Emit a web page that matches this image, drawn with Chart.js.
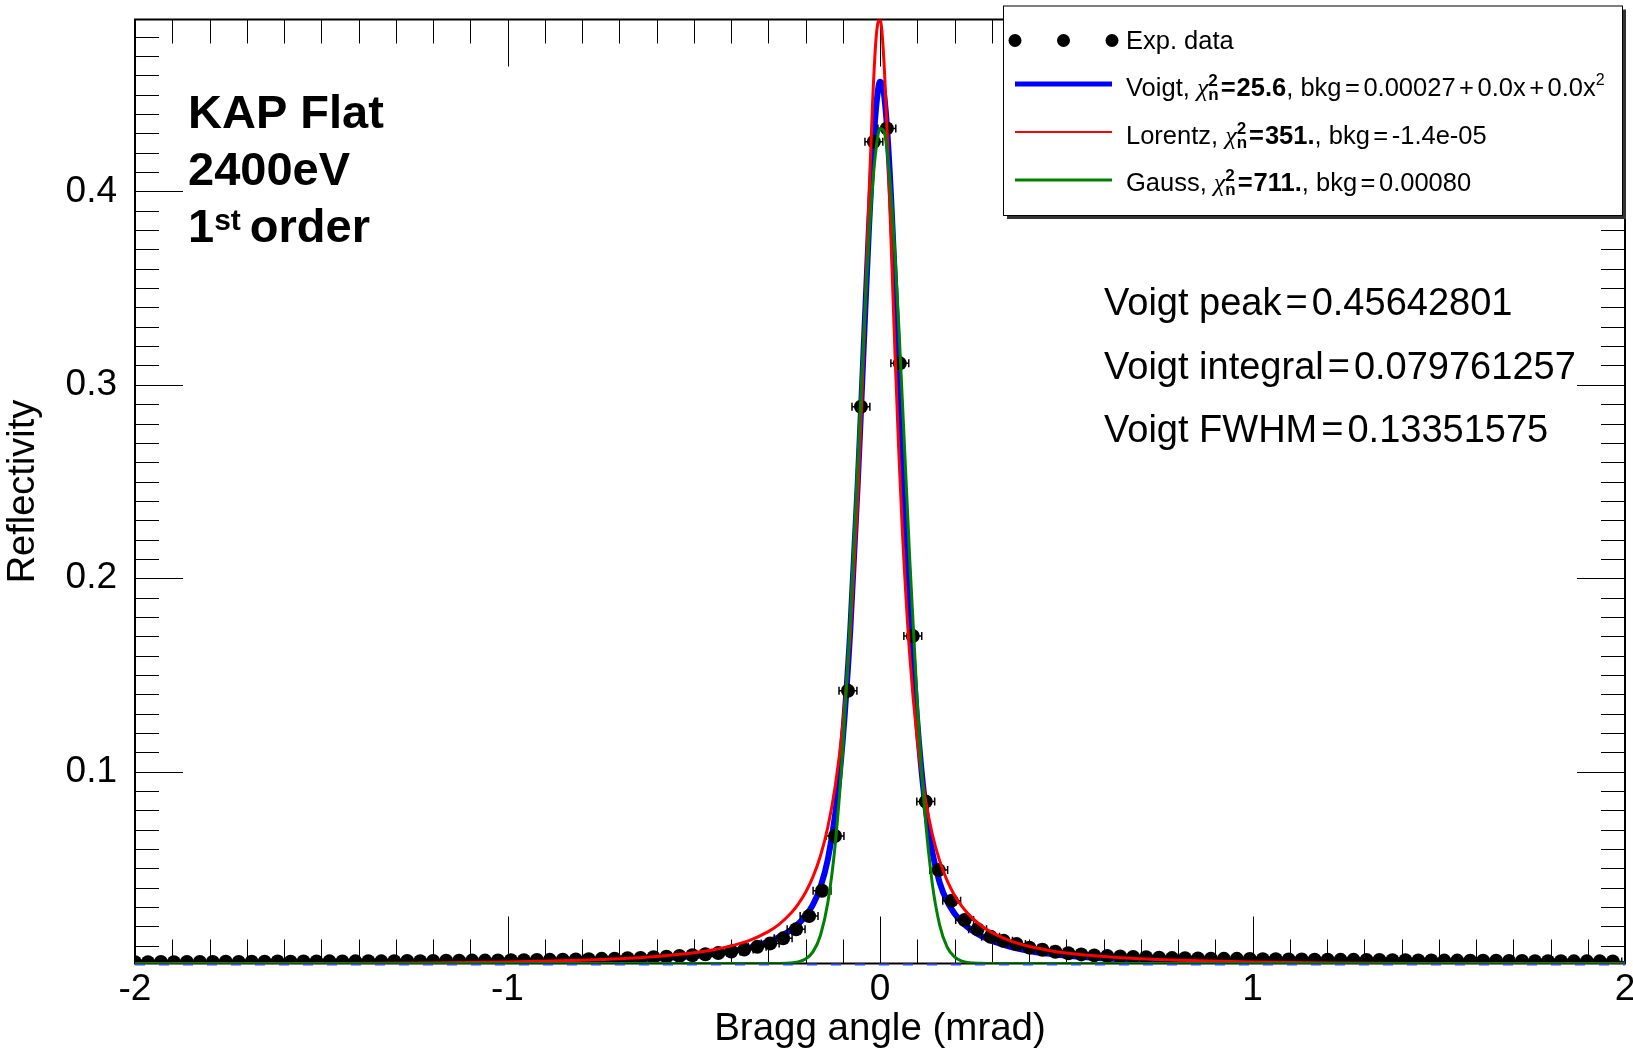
<!DOCTYPE html>
<html>
<head>
<meta charset="utf-8">
<title>KAP Flat 2400eV - rocking curve</title>
<script src="https://cdn.jsdelivr.net/npm/chart.js@4.4.1/dist/chart.umd.min.js"></script>
<style>
    html, body { margin: 0; padding: 0; background: #fff; }
    canvas { display: block; }
</style>
</head>
<body>
<canvas id="chart" width="1633" height="1053"></canvas>
<script>
// Measured points (Bragg angle in mrad, reflectivity)
const braggAngle = [
    -2.0000, -1.9652, -1.9304, -1.8956, -1.8608, -1.8260, -1.7912, -1.7564, -1.7216, -1.6868,
    -1.6520, -1.6172, -1.5824, -1.5476, -1.5128, -1.4780, -1.4432, -1.4084, -1.3736, -1.3388,
    -1.3040, -1.2692, -1.2344, -1.1996, -1.1648, -1.1300, -1.0952, -1.0604, -1.0256, -0.9908,
    -0.9560, -0.9212, -0.8864, -0.8516, -0.8168, -0.7820, -0.7472, -0.7124, -0.6776, -0.6428,
    -0.6080, -0.5732, -0.5384, -0.5036, -0.4688, -0.4340, -0.3992, -0.3644, -0.3296, -0.2948,
    -0.2600, -0.2252, -0.1904, -0.1556, -0.1208, -0.0860, -0.0512, -0.0164, 0.0184, 0.0532,
    0.0880, 0.1228, 0.1576, 0.1924, 0.2272, 0.2620, 0.2968, 0.3316, 0.3664, 0.4012,
    0.4360, 0.4708, 0.5056, 0.5404, 0.5752, 0.6100, 0.6448, 0.6796, 0.7144, 0.7492,
    0.7840, 0.8188, 0.8536, 0.8884, 0.9232, 0.9580, 0.9928, 1.0276, 1.0624, 1.0972,
    1.1320, 1.1668, 1.2016, 1.2364, 1.2712, 1.3060, 1.3408, 1.3756, 1.4104, 1.4452,
    1.4800, 1.5148, 1.5496, 1.5844, 1.6192, 1.6540, 1.6888, 1.7236, 1.7584, 1.7932,
    1.8280, 1.8628, 1.8976, 1.9324, 1.9672
];
const reflectivity = [
    0.0015, 0.0015, 0.0016, 0.0015, 0.0016, 0.0016, 0.0016, 0.0017, 0.0016, 0.0017,
    0.0017, 0.0018, 0.0017, 0.0018, 0.0018, 0.0019, 0.0018, 0.0019, 0.0020, 0.0019,
    0.0020, 0.0021, 0.0020, 0.0021, 0.0022, 0.0022, 0.0023, 0.0023, 0.0024, 0.0025,
    0.0025, 0.0026, 0.0027, 0.0028, 0.0029, 0.0030, 0.0032, 0.0033, 0.0035, 0.0037,
    0.0040, 0.0043, 0.0047, 0.0051, 0.0056, 0.0062, 0.0070, 0.0080, 0.0094, 0.0112,
    0.0138, 0.0185, 0.0253, 0.0384, 0.0667, 0.1418, 0.2887, 0.4257, 0.4326, 0.3111,
    0.1701, 0.0845, 0.0491, 0.0333, 0.0233, 0.0185, 0.0146, 0.0126, 0.0109, 0.0090,
    0.0079, 0.0069, 0.0061, 0.0055, 0.0050, 0.0047, 0.0044, 0.0042, 0.0040, 0.0038,
    0.0036, 0.0035, 0.0034, 0.0033, 0.0032, 0.0032, 0.0031, 0.0030, 0.0030, 0.0029,
    0.0029, 0.0028, 0.0028, 0.0027, 0.0027, 0.0026, 0.0026, 0.0025, 0.0025, 0.0024,
    0.0024, 0.0023, 0.0023, 0.0022, 0.0022, 0.0022, 0.0021, 0.0021, 0.0020, 0.0020,
    0.0020, 0.0019, 0.0019, 0.0019, 0.0018
];
const angleError = 0.024;

// Fitted curves
const fitAngle = [
    -2.0, -1.6, -1.2, -1.0, -0.8, -0.7, -0.6, -0.5, -0.45, -0.4,
    -0.35, -0.3, -0.27, -0.24, -0.22, -0.2, -0.18, -0.16, -0.14, -0.12,
    -0.1, -0.08, -0.06, -0.05, -0.04, -0.03, -0.02, -0.01, 0, 0.01,
    0.02, 0.03, 0.04, 0.05, 0.06, 0.08, 0.1, 0.12, 0.14, 0.16,
    0.18, 0.2, 0.22, 0.24, 0.27, 0.3, 0.35, 0.4, 0.45, 0.5,
    0.6, 0.7, 0.8, 1.0, 1.2, 1.6, 2.0
];
const voigtFit = [
    0.00055, 0.0007, 0.00104, 0.00138, 0.0020, 0.00252, 0.00332, 0.00463, 0.00563, 0.00701,
    0.00898, 0.0120, 0.0145, 0.0180, 0.0212, 0.0253, 0.0312, 0.0402, 0.0546, 0.0784,
    0.1163, 0.1724, 0.2480, 0.2914, 0.3362, 0.3795, 0.4172, 0.4443, 0.4567, 0.4514,
    0.4299, 0.3959, 0.3543, 0.3096, 0.2653, 0.1864, 0.1262, 0.0850, 0.0588, 0.0428,
    0.0330, 0.0267, 0.0222, 0.0189, 0.0152, 0.0126, 0.0094, 0.0073, 0.0059, 0.0048,
    0.0035, 0.0026, 0.0020, 0.0014, 0.0011, 0.0007, 0.00055
];
const lorentzFit = [
    0.0004, 0.00062, 0.0011, 0.0016, 0.0025, 0.0032, 0.0044, 0.0063, 0.0078, 0.0099,
    0.0128, 0.0173, 0.0212, 0.0266, 0.0314, 0.0375, 0.0456, 0.0564, 0.0714, 0.0927,
    0.1239, 0.1706, 0.2408, 0.2867, 0.3392, 0.3947, 0.4456, 0.4805, 0.4894, 0.4692,
    0.4265, 0.3726, 0.3176, 0.2674, 0.2244, 0.1596, 0.1166, 0.0878, 0.0680, 0.0540,
    0.0438, 0.0361, 0.0303, 0.0258, 0.0206, 0.0169, 0.0125, 0.0097, 0.0077, 0.0062,
    0.0044, 0.0032, 0.0025, 0.0016, 0.0011, 0.0006, 0.0004
];
const gaussFit = [
    0.0008, 0.0008, 0.0008, 0.0008, 0.0008, 0.0008, 0.0008, 0.0008, 0.0008, 0.0008,
    0.0008, 0.0008, 0.0008, 0.0010, 0.0016, 0.0031, 0.0068, 0.0153, 0.0323, 0.0628,
    0.1111, 0.1782, 0.2587, 0.3001, 0.3396, 0.3747, 0.4031, 0.4229, 0.4326, 0.4315,
    0.4197, 0.3981, 0.3681, 0.3320, 0.2919, 0.2093, 0.1358, 0.0798, 0.0426, 0.0208,
    0.0094, 0.0042, 0.0020, 0.0012, 0.0009, 0.0008, 0.0008, 0.0008, 0.0008, 0.0008,
    0.0008, 0.0008, 0.0008, 0.0008, 0.0008, 0.0008, 0.0008
];
// Voigt background level (dashed)
const bkgAngle = [-2, 2];
const voigtBkg = [0.00027, 0.00027];

// Axis tick labels
const xTickValues = [-2, -1, 0, 1, 2];
const yTickValues = [0.1, 0.2, 0.3, 0.4];

// Legend and fit summary text
const fitNames = ['Voigt', 'Lorentz', 'Gauss'];
const fitChi2 = ['25.6', '351.', '711.'];
const fitBkg = ['0.00027', '-1.4e-05', '0.00080'];
const summaryLabels = ['Voigt peak', 'Voigt integral', 'Voigt FWHM'];
const summaryValues = ['0.45642801', '0.079761257', '0.13351575'];

const FONT = "'Liberation Sans', Arial, Helvetica, sans-serif";
const DATA_INDEX = 2;

function toPoints(xs, ys) {
    return xs.map((x, i) => ({ x: x, y: ys[i] }));
}

// Draw a row of text pieces, each with its own font and offsets
function drawRuns(ctx, x, y, runs) {
    runs.forEach(r => {
        ctx.font = r.font;
        if (r.sup !== undefined) {
            ctx.fillText(r.sup, x, y - 10);
            ctx.fillText(r.sub, x, y + 4);
            x += Math.max(ctx.measureText(r.sup).width, ctx.measureText(r.sub).width) + 1;
            return;
        }
        const gap = r.gap || 0;
        x += gap;
        ctx.fillText(r.text, x, y + (r.dy || 0));
        x += ctx.measureText(r.text).width + gap;
    });
    return x;
}

// ROOT style frame with ticks on all four sides
const frameTicks = {
    id: 'frameTicks',
    beforeDatasetsDraw(chart) {
        const ctx = chart.ctx;
        const a = chart.chartArea;
        const xs = chart.scales.x;
        const ys = chart.scales.y;
        ctx.save();
        ctx.strokeStyle = '#000';
        ctx.lineWidth = 1;
        ctx.beginPath();
        for (let i = -20; i <= 20; i++) {
            const px = Math.round(xs.getPixelForValue(i / 10)) + 0.5;
            const len = i % 10 === 0 ? 47 : 24;
            ctx.moveTo(px, a.bottom);
            ctx.lineTo(px, a.bottom - len);
            ctx.moveTo(px, a.top);
            ctx.lineTo(px, a.top + len);
        }
        for (let i = 1; i <= 48; i++) {
            const py = Math.round(ys.getPixelForValue(i / 100)) + 0.5;
            const len = i % 10 === 0 ? 48 : 24;
            ctx.moveTo(a.left, py);
            ctx.lineTo(a.left + len, py);
            ctx.moveTo(a.right, py);
            ctx.lineTo(a.right - len, py);
        }
        ctx.stroke();
        ctx.lineWidth = 2;
        ctx.strokeRect(a.left, a.top, a.right - a.left, a.bottom - a.top);
        ctx.restore();
    }
};

// Horizontal error bars with end caps under the data markers
const errorBars = {
    id: 'errorBars',
    beforeDatasetDraw(chart, args) {
        if (args.index !== DATA_INDEX) return;
        const ctx = chart.ctx;
        const a = chart.chartArea;
        const xs = chart.scales.x;
        const ys = chart.scales.y;
        ctx.save();
        ctx.beginPath();
        ctx.rect(a.left, a.top, a.right - a.left, a.bottom - a.top);
        ctx.clip();
        ctx.strokeStyle = '#000';
        ctx.lineWidth = 1.5;
        ctx.beginPath();
        braggAngle.forEach((x, i) => {
            const py = ys.getPixelForValue(reflectivity[i]);
            const x1 = xs.getPixelForValue(x - angleError);
            const x2 = xs.getPixelForValue(x + angleError);
            ctx.moveTo(x1, py);
            ctx.lineTo(x2, py);
            ctx.moveTo(x1, py - 4);
            ctx.lineTo(x1, py + 4);
            ctx.moveTo(x2, py - 4);
            ctx.lineTo(x2, py + 4);
        });
        ctx.stroke();
        ctx.restore();
    }
};

// Crystal label, fit summary and the legend box
const annotations = {
    id: 'annotations',
    afterDraw(chart) {
        const ctx = chart.ctx;
        ctx.save();
        ctx.fillStyle = '#000';
        ctx.textAlign = 'left';
        ctx.textBaseline = 'alphabetic';

        const big = 'bold 47px ' + FONT;
        ctx.font = big;
        ctx.fillText('KAP Flat', 188, 128);
        ctx.fillText('2400eV', 188, 185);
        drawRuns(ctx, 188, 242, [
            { text: '1', font: big },
            { text: 'st', font: 'bold 30px ' + FONT, dy: -12 },
            { text: 'order', font: big, gap: 9 }
        ]);

        const mid = '38px ' + FONT;
        summaryLabels.forEach((label, i) => {
            drawRuns(ctx, 1104, 315 + i * 63.5, [
                { text: label, font: mid },
                { text: '=', font: mid, gap: 4 },
                { text: summaryValues[i], font: mid }
            ]);
        });

        // legend box with shadow
        const bx = 1003, by = 5.5, bw = 619, bh = 209.5;
        ctx.fillStyle = '#333';
        ctx.fillRect(bx + 4, by + 4, bw, bh);
        ctx.fillStyle = '#fff';
        ctx.fillRect(bx, by, bw, bh);
        ctx.strokeStyle = '#000';
        ctx.lineWidth = 1;
        ctx.strokeRect(bx + 0.5, by + 0.5, bw, bh);

        ctx.fillStyle = '#000';
        [1015, 1063.5, 1112].forEach(px => {
            ctx.beginPath();
            ctx.arc(px, 40.5, 6.5, 0, Math.PI * 2);
            ctx.fill();
        });
        const lf = '25.5px ' + FONT;
        const lb = 'bold 25.5px ' + FONT;
        const greek = "italic 26px 'Liberation Serif', 'DejaVu Serif', serif";
        const tiny = 'bold 17px ' + FONT;
        ctx.font = lf;
        ctx.fillText('Exp. data', 1126, 48.5);

        const lineColors = ['#0000ff', '#ff0000', '#008000'];
        const lineWidths = [5, 2, 3];
        fitNames.forEach((name, i) => {
            const ly = 84 + i * 48;
            ctx.strokeStyle = lineColors[i];
            ctx.lineWidth = lineWidths[i];
            ctx.beginPath();
            ctx.moveTo(1015, ly);
            ctx.lineTo(1112, ly);
            ctx.stroke();
            ctx.fillStyle = '#000';
            const runs = [
                { text: name + ', ', font: lf },
                { text: '\u03c7', font: greek },
                { sup: '2', sub: 'n', font: tiny },
                { text: '=', font: lb, gap: 1 },
                { text: fitChi2[i], font: lb },
                { text: ', bkg', font: lf },
                { text: '=', font: lf, gap: 3.5 },
                { text: fitBkg[i], font: lf }
            ];
            if (i === 0) {
                runs.push({ text: '+', font: lf, gap: 3.5 });
                runs.push({ text: '0.0x', font: lf });
                runs.push({ text: '+', font: lf, gap: 3.5 });
                runs.push({ text: '0.0x', font: lf });
                runs.push({ text: '2', font: '16px ' + FONT, dy: -11 });
            }
            drawRuns(ctx, 1126, 96 + i * 47.5, runs);
        });
        ctx.restore();
    }
};

const lineStyle = {
    pointRadius: 0,
    fill: false,
    cubicInterpolationMode: 'monotone'
};

new Chart(document.getElementById('chart'), {
    type: 'line',
    data: {
        datasets: [
            Object.assign({
                label: 'Gauss',
                data: toPoints(fitAngle, gaussFit),
                borderColor: '#008000',
                borderWidth: 3
            }, lineStyle),
            Object.assign({
                label: 'Lorentz',
                data: toPoints(fitAngle, lorentzFit),
                borderColor: '#ff0000',
                borderWidth: 3
            }, lineStyle),
            {
                label: 'Exp. data',
                data: toPoints(braggAngle, reflectivity),
                showLine: false,
                pointRadius: 7,
                pointBackgroundColor: '#000',
                pointBorderWidth: 0,
                clip: 0
            },
            Object.assign({
                label: 'Voigt',
                data: toPoints(fitAngle, voigtFit),
                borderColor: '#0000ff',
                borderWidth: 6
            }, lineStyle),
            {
                label: 'Voigt bkg',
                data: toPoints(bkgAngle, voigtBkg),
                borderColor: '#3050ff',
                borderWidth: 2,
                borderDash: [10, 14],
                pointRadius: 0,
                clip: { left: 0, top: 0, right: 0, bottom: 3 }
            }
        ]
    },
    options: {
        responsive: false,
        animation: false,
        devicePixelRatio: 1,
        layout: { padding: { left: 0, top: 19.5, right: 8, bottom: 0 } },
        plugins: {
            legend: { display: false },
            tooltip: { enabled: false }
        },
        scales: {
            x: {
                type: 'linear',
                min: -2,
                max: 2,
                afterBuildTicks: s => { s.ticks = xTickValues.map(v => ({ value: v })); },
                afterFit: s => { s.height = 89.5; s.paddingLeft = 0; s.paddingRight = 0; },
                grid: { display: false, drawTicks: false },
                border: { display: false },
                ticks: {
                    color: '#000',
                    font: { family: FONT, size: 37 },
                    padding: 4,
                    maxRotation: 0,
                    autoSkip: false,
                    callback: v => String(v)
                },
                title: {
                    display: true,
                    text: 'Bragg angle (mrad)',
                    color: '#000',
                    font: { family: FONT, size: 38.5 },
                    padding: { top: 0, bottom: 1 }
                }
            },
            y: {
                type: 'linear',
                min: 0.0008,
                max: 0.4889,
                afterBuildTicks: s => { s.ticks = yTickValues.map(v => ({ value: v })); },
                afterFit: s => { s.width = 135; s.paddingTop = 0; s.paddingBottom = 0; },
                grid: { display: false, drawTicks: false },
                border: { display: false },
                ticks: {
                    color: '#000',
                    font: { family: FONT, size: 37 },
                    padding: 18,
                    callback: v => v.toFixed(1)
                },
                title: {
                    display: true,
                    text: 'Reflectivity',
                    color: '#000',
                    font: { family: FONT, size: 38 },
                    padding: { top: 1, bottom: 0 }
                }
            }
        }
    },
    plugins: [frameTicks, errorBars, annotations]
});
</script>
</body>
</html>
